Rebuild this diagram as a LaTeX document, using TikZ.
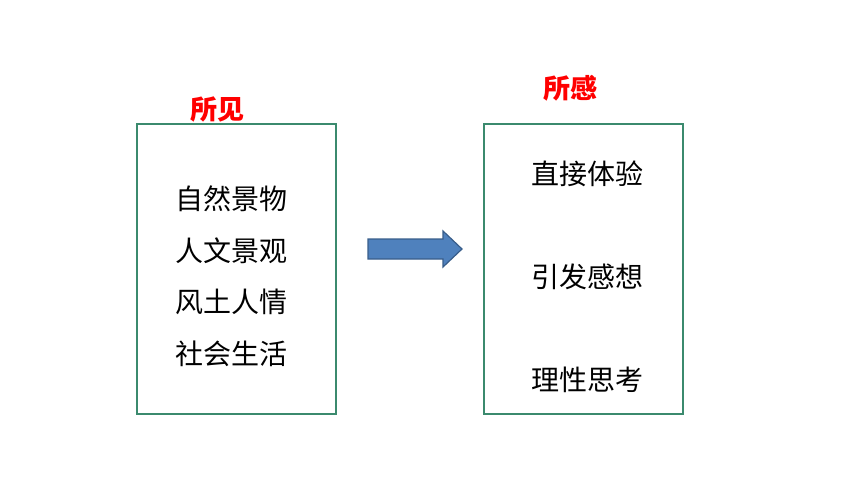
\documentclass[tikz,border=0pt]{standalone}
\usepackage{fontspec}
\newfontfamily\cjk{Noto Sans CJK SC}
\begin{document}
\begin{tikzpicture}[x=1pt,y=-1pt]
    \tikzstyle{panel} = [draw=boxgreen, line width=1.6pt, rectangle, minimum width=199pt, minimum height=290pt]
    \tikzstyle{item} = [font=\cjk\fontsize{28}{32}\selectfont, inner sep=0pt]
    \tikzstyle{heading} = [font=\cjk\bfseries\fontsize{27}{31}\selectfont, text=red, inner sep=0pt]
    \tikzstyle{bigarrow} = [draw=arrowline, fill=arrowfill, line width=1.2pt, line join=miter]
    \definecolor{boxgreen}{HTML}{3B8A6E}
    \definecolor{arrowfill}{HTML}{4F81BD}
    \definecolor{arrowline}{HTML}{385D8A}
    \useasboundingbox (0,0) rectangle (860,484);
    \node[panel] (seen) at (236.5, 269) {};
    \node[panel] (felt) at (583.5, 269) {};
    \node[heading] (seen-title) at (217, 110) {所见};
    \node[heading] (felt-title) at (570, 88) {所感};
    \node[item] (s1) at (231, 199) {自然景物};
    \node[item] (s2) at (231, 251) {人文景观};
    \node[item] (s3) at (231, 302) {风土人情};
    \node[item] (s4) at (231, 354) {社会生活};
    \node[item] (f1) at (587, 174) {直接体验};
    \node[item] (f2) at (587, 277) {引发感想};
    \node[item] (f3) at (587, 380) {理性思考};
    \coordinate (tail) at (368, 249);
    \coordinate (tip) at (462, 249);
    \draw[bigarrow] (tail) ++(0,-10) -- ++(75,0) -- ++(0,-8) -- (tip) -- ++(-19,18) -- ++(0,-8) -- ++(-75,0) -- cycle;
\end{tikzpicture}
\end{document}
